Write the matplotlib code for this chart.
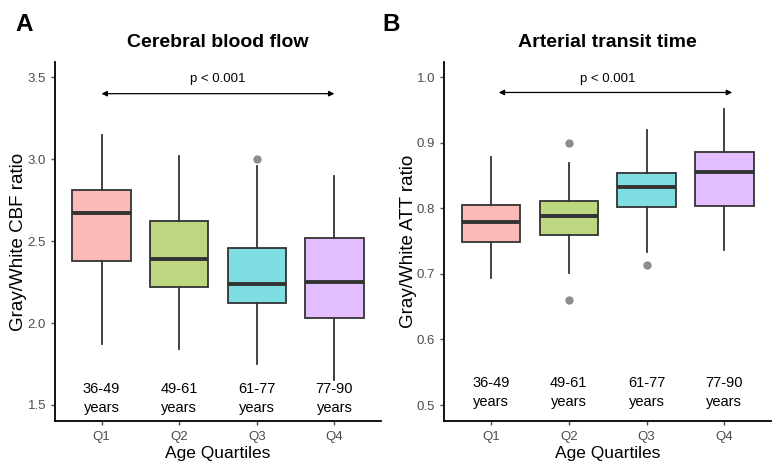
import numpy as np
import matplotlib
matplotlib.use("Agg")
import matplotlib.pyplot as plt

plt.rcParams['font.family'] = ['Liberation Sans', 'DejaVu Sans']

# Data
quartiles = ["Q1", "Q2", "Q3", "Q4"]
age_ranges = ["36-49\nyears", "49-61\nyears", "61-77\nyears", "77-90\nyears"]
fills = ["#F8766D", "#7CAE00", "#00BFC4", "#C77CFF"]

# CBF ratio: lower whisker, Q1, median, Q3, upper whisker
cbf_low = [1.87, 1.84, 1.75, 1.65]
cbf_q1 = [2.38, 2.22, 2.12, 2.03]
cbf_med = [2.67, 2.39, 2.24, 2.25]
cbf_q3 = [2.81, 2.62, 2.46, 2.52]
cbf_high = [3.15, 3.02, 2.96, 2.90]
cbf_out = [[], [], [3.00], []]

# ATT ratio
att_low = [0.694, 0.701, 0.734, 0.736]
att_q1 = [0.749, 0.759, 0.802, 0.803]
att_med = [0.779, 0.789, 0.833, 0.855]
att_q3 = [0.806, 0.811, 0.854, 0.886]
att_high = [0.879, 0.870, 0.920, 0.951]
att_out = [[], [0.900, 0.660], [0.713], []]


def make_stats(low, q1, med, q3, high, out):
    stats = []
    for i in range(len(low)):
        stats.append(dict(whislo=low[i], q1=q1[i], med=med[i], q3=q3[i],
                          whishi=high[i], fliers=out[i]))
    return stats


def draw_panel(ax, stats, ylim, yticks, ylabel, title,
               arrow_x, arrow_y, p_y, label_y):
    bp = ax.bxp(stats, positions=range(1, 5), widths=0.75, patch_artist=True,
                showfliers=True,
                boxprops=dict(edgecolor='#333333', linewidth=1.3),
                medianprops=dict(color='#333333', linewidth=2.8),
                whiskerprops=dict(color='#333333', linewidth=1.3),
                capprops=dict(linewidth=0),
                flierprops=dict(marker='o', markerfacecolor='#8c8c8c',
                                markeredgecolor='#8c8c8c', markersize=5))
    for patch, c in zip(bp['boxes'], fills):
        patch.set_facecolor(matplotlib.colors.to_rgba(c, 0.5))
    ax.set_xlim(0.4, 4.6)
    ax.set_ylim(*ylim)
    ax.set_yticks(yticks)
    ax.set_yticklabels([f"{t:.1f}" for t in yticks])
    ax.set_xticks(range(1, 5))
    ax.set_xticklabels(quartiles, fontsize=10.5)
    for s in ['top', 'right']:
        ax.spines[s].set_visible(False)
    for s in ['left', 'bottom']:
        ax.spines[s].set_linewidth(1.3)
    ax.tick_params(colors='#4D4D4D', labelsize=9.5, length=3, width=1)
    ax.tick_params(axis='x', pad=4)
    ax.set_ylabel(ylabel, fontsize=13.5, labelpad=0)
    ax.set_xlabel("Age Quartiles", fontsize=12.5, labelpad=2)
    ax.set_title(title, fontsize=14, fontweight='bold', pad=11)
    ax.annotate("", xy=(arrow_x[1], arrow_y), xytext=(arrow_x[0], arrow_y),
                arrowprops=dict(arrowstyle='<|-|>', color='black', lw=0.9,
                                mutation_scale=8, shrinkA=0, shrinkB=0))
    ax.text(2.5, p_y, "p < 0.001", ha='center', va='center', fontsize=9.5)
    for i, lab in enumerate(age_ranges):
        ax.text(i + 1, label_y, lab, ha='center', va='center', fontsize=10.5,
                linespacing=1.4)


fig = plt.figure(figsize=(7.81, 4.68), dpi=100)
ax1 = fig.add_axes([0.0704, 0.1004, 0.4174, 0.767])
ax2 = fig.add_axes([0.5689, 0.1004, 0.4183, 0.767])

draw_panel(ax1, make_stats(cbf_low, cbf_q1, cbf_med, cbf_q3, cbf_high, cbf_out),
           (1.402, 3.593), [1.5, 2.0, 2.5, 3.0, 3.5], "Gray/White CBF ratio",
           "Cerebral blood flow", (1.0, 4.0), 3.40, 3.49, 1.54)
draw_panel(ax2, make_stats(att_low, att_q1, att_med, att_q3, att_high, att_out),
           (0.4756, 1.0234), [0.5, 0.6, 0.7, 0.8, 0.9, 1.0], "Gray/White ATT ratio",
           "Arterial transit time", (1.1, 4.1), 0.977, 0.998, 0.519)

fig.text(15 / 781, 1 - 24.5 / 468, "A", fontsize=17.5, fontweight='bold',
         ha='left', va='center')
fig.text(382 / 781, 1 - 24.5 / 468, "B", fontsize=17.5, fontweight='bold',
         ha='left', va='center')

fig.savefig("out.png", dpi=100)
